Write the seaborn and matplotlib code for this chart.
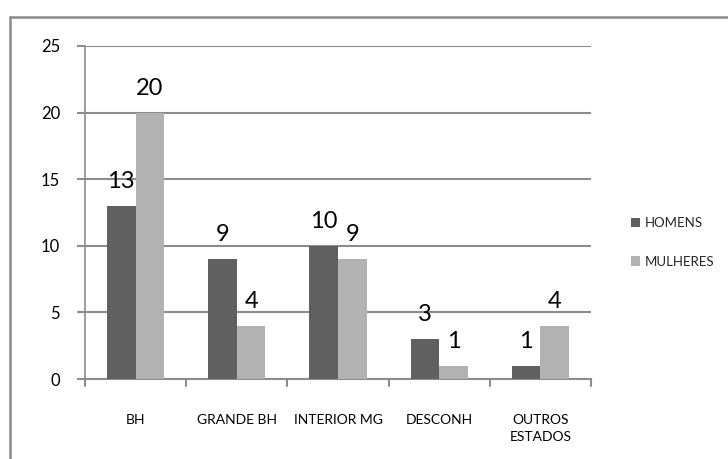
import matplotlib
matplotlib.use("Agg")
import matplotlib.pyplot as plt
import seaborn as sns
import pandas as pd
from matplotlib.lines import Line2D

categories = ["BH", "GRANDE BH", "INTERIOR MG", "DESCONH", "OUTROS\nESTADOS"]
series_names = ["HOMENS", "MULHERES"]
homens = [13, 9, 10, 3, 1]
mulheres = [20, 4, 9, 1, 4]
y_ticks = [0, 5, 10, 15, 20, 25]

df = pd.DataFrame({
    "categoria": categories * 2,
    "serie": [series_names[0]] * len(categories) + [series_names[1]] * len(categories),
    "valor": homens + mulheres,
})

sns.set_theme(style="white")
plt.rcParams["font.family"] = ["Lato", "DejaVu Sans"]

fig = plt.figure(figsize=(7.28, 4.59), dpi=100)
ax = fig.add_axes([85 / 728, 1 - 379 / 459, (591 - 85) / 728, (379 - 46) / 459])

palette = {"HOMENS": "#606060", "MULHERES": "#b2b2b2"}
sns.barplot(data=df, x="categoria", y="valor", hue="serie", order=categories,
            hue_order=series_names, palette=palette, width=0.565, saturation=1,
            ax=ax, zorder=3, legend=True, linewidth=0, edgecolor="none")

ax.set_xlim(-0.5, len(categories) - 0.5)
ax.set_ylim(0, 25)
ax.set_yticks(y_ticks)
ax.set_yticklabels([str(t) for t in y_ticks], fontsize=12, color="#000000")
ax.set_xlabel("")
ax.set_ylabel("")

gc = "#8c8c8c"
ax.yaxis.grid(True, color=gc, linewidth=1.5, zorder=0)
ax.set_axisbelow(True)
for s in ["top", "right"]:
    ax.spines[s].set_visible(False)
ax.spines["left"].set_color(gc)
ax.spines["left"].set_linewidth(1.2)
ax.spines["bottom"].set_color(gc)
ax.spines["bottom"].set_linewidth(1.5)

ax.set_xticks([i for i in range(len(categories))])
ax.set_xticklabels(categories, fontsize=10, color="#000000", linespacing=1.5)
ax.tick_params(axis="x", length=0, pad=25)
ax.tick_params(axis="y", length=6, color=gc, width=1.5, pad=12, left=True)
for b in [i - 0.5 for i in range(len(categories) + 1)]:
    ax.plot([b, b], [0, -0.02], transform=ax.get_xaxis_transform(), color=gc,
            linewidth=1.5, clip_on=False)

for cont in ax.containers:
    ax.bar_label(cont, fmt="%d", padding=10, fontsize=17, color="#000000")

leg = ax.legend(loc="center left", bbox_to_anchor=(1.055, 0.41), frameon=False,
                fontsize=9.5, handlelength=0.7, handleheight=0.7, labelspacing=2.0,
                handletextpad=0.4)

fig.add_artist(Line2D([10 / 728, 1], [1 - 17 / 459, 1 - 17 / 459],
                      transform=fig.transFigure, color="#8a8a8a", linewidth=1.8))
fig.add_artist(Line2D([10 / 728, 10 / 728], [0, 1 - 17 / 459],
                      transform=fig.transFigure, color="#8a8a8a", linewidth=1.8))

fig.savefig("out.png", dpi=100, facecolor="white")
